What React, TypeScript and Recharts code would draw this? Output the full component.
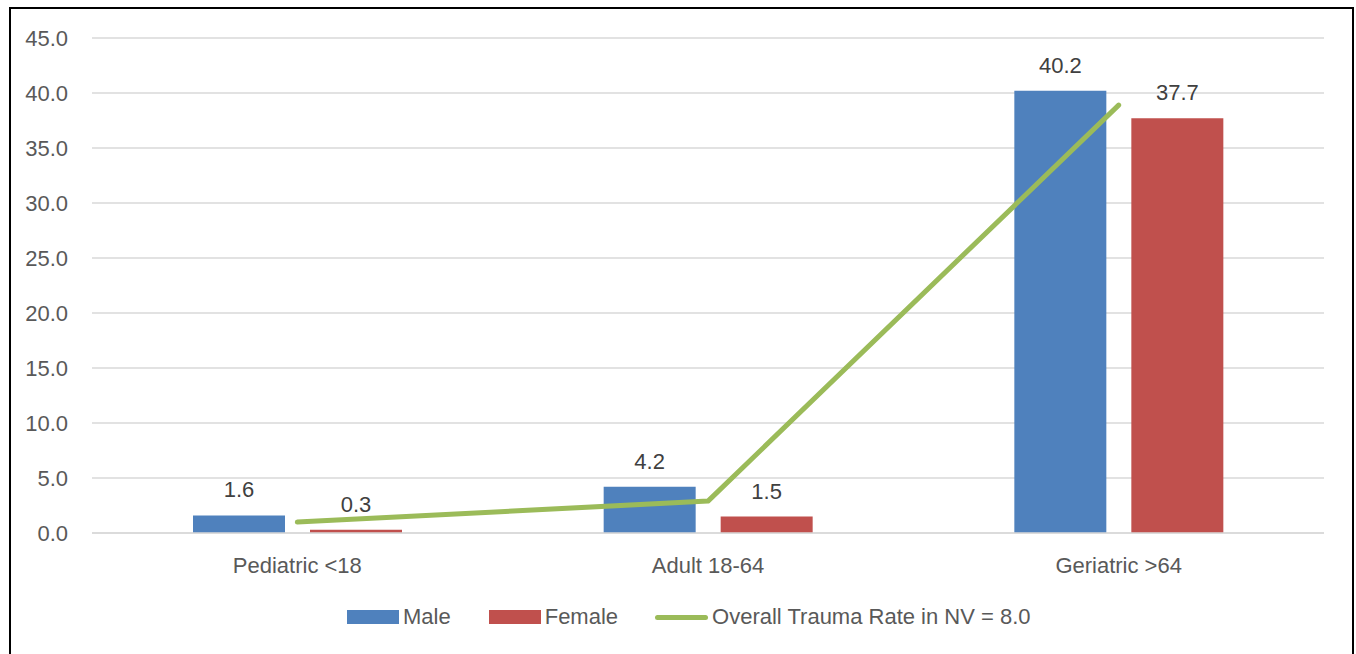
import {
    ComposedChart,
    Bar,
    Line,
    XAxis,
    YAxis,
    CartesianGrid,
    Legend,
    LabelList,
} from 'recharts';

const categories = ['Pediatric <18', 'Adult 18-64', 'Geriatric >64'];
const maleRates = [1.6, 4.2, 40.2];
const femaleRates = [0.3, 1.5, 37.7];
const overallRates = [1.0, 2.9, 38.9];
const yTicks = [0, 5, 10, 15, 20, 25, 30, 35, 40, 45];

const FONT = '"Liberation Sans", Arial, sans-serif';
const FS = 22;
const BLUE = '#4F81BD';
const RED = '#C0504D';
const GREEN = '#9BBB59';

const chartData = categories.map((name, i) => ({
    name,
    male: maleRates[i],
    female: femaleRates[i],
    overall: overallRates[i],
}));

function LegendBox() {
    const text = { fontSize: FS, color: '#595959', marginLeft: 4, fontFamily: FONT };
    return (
        <div
            style={{
                height: 81,
                paddingTop: 7,
                paddingLeft: 347,
                boxSizing: 'border-box',
                display: 'flex',
                alignItems: 'center',
            }}
        >
            <span style={{ width: 52, height: 14, background: BLUE, display: 'inline-block' }} />
            <span style={text}>Male</span>
            <span style={{ width: 52, height: 14, background: RED, display: 'inline-block', marginLeft: 38 }} />
            <span style={text}>Female</span>
            <span
                style={{
                    width: 53,
                    height: 5,
                    borderRadius: 3,
                    background: GREEN,
                    display: 'inline-block',
                    marginLeft: 37,
                }}
            />
            <span style={text}>Overall Trauma Rate in NV = 8.0</span>
        </div>
    );
}

export default function App() {
    return (
        <div style={{ position: 'absolute', left: 0, top: 0, width: 1356, height: 654, background: '#fff' }}>
            <div
                style={{
                    position: 'absolute',
                    left: 9,
                    top: 7,
                    width: 1345,
                    height: 660,
                    border: '2px solid #000',
                    boxSizing: 'border-box',
                }}
            />
            <ComposedChart
                width={1356}
                height={654}
                data={chartData}
                margin={{ top: 38, right: 32, left: 0, bottom: 0 }}
                barSize={92}
                barGap={25}
            >
                <CartesianGrid vertical={false} stroke="#D9D9D9" strokeWidth={1.5} />
                <XAxis
                    dataKey="name"
                    height={40}
                    axisLine={{ stroke: '#D9D9D9', strokeWidth: 1.5 }}
                    tickLine={false}
                    tickSize={0}
                    tickMargin={24}
                    tick={{ fontSize: FS, fill: '#595959', fontFamily: FONT }}
                />
                <YAxis
                    width={92}
                    domain={[0, 45]}
                    ticks={yTicks}
                    interval={0}
                    axisLine={false}
                    tickLine={false}
                    tickSize={0}
                    tickMargin={24}
                    tickFormatter={(v: number) => v.toFixed(1)}
                    tick={{ fontSize: FS, fill: '#595959', fontFamily: FONT }}
                />
                <Legend verticalAlign="bottom" wrapperStyle={{ left: 0, width: 1356 }} content={() => <LegendBox />} />
                <Bar dataKey="male" name="Male" fill={BLUE} isAnimationActive={false}>
                    <LabelList
                        dataKey="male"
                        position="top"
                        offset={18}
                        formatter={(v: number) => v.toFixed(1)}
                        style={{ fontSize: FS, fill: '#404040', fontFamily: FONT }}
                    />
                </Bar>
                <Bar dataKey="female" name="Female" fill={RED} isAnimationActive={false}>
                    <LabelList
                        dataKey="female"
                        position="top"
                        offset={18}
                        formatter={(v: number) => v.toFixed(1)}
                        style={{ fontSize: FS, fill: '#404040', fontFamily: FONT }}
                    />
                </Bar>
                <Line
                    type="linear"
                    dataKey="overall"
                    name="Overall Trauma Rate in NV = 8.0"
                    stroke={GREEN}
                    strokeWidth={5}
                    strokeLinecap="round"
                    strokeLinejoin="round"
                    dot={false}
                    activeDot={false}
                    isAnimationActive={false}
                />
            </ComposedChart>
        </div>
    );
}
